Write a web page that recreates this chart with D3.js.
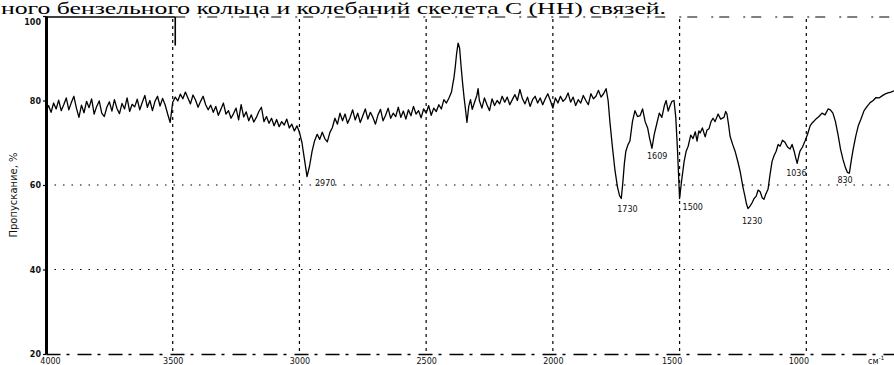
<!DOCTYPE html>
<html>
<head>
<meta charset="utf-8">
<script src="https://cdn.jsdelivr.net/npm/d3@7"></script>
<style>
  body { margin: 0; background: #fff; }
  svg { display: block; }
</style>
</head>
<body>
<svg id="chart" width="894" height="365"></svg>
<script>
// Caption line running across the top of the figure
const heading = "ного бензельного кольца и колебаний скелета С (НН) связей.";
const yTitle = "Пропускание, %";
const xUnit = "см";

// Axis ticks
const xTicks = [4000, 3500, 3000, 2500, 2000, 1500, 1000];
const yTicks = [100, 80, 60, 40, 20];
const gridT = [60, 40];

// IR spectrum: wavenumber (cm-1) and transmittance (%)
const wavenumber = [
  4000,3990,3980,3970,3960,3950,3940,3930,3920,3910,3900,3890,3880,3870,3860,3850,3840,3830,3820,3810,
  3800,3790,3780,3770,3760,3750,3740,3730,3720,3710,3700,3690,3680,3670,3660,3650,3640,3630,3620,3610,
  3600,3590,3580,3570,3560,3550,3540,3530,3520,3510,3500,3490,3480,3470,3460,3450,3440,3430,3420,3410,
  3400,3390,3380,3370,3360,3350,3340,3330,3320,3310,3300,3290,3280,3270,3260,3250,3240,3230,3220,3210,
  3200,3190,3180,3170,3160,3150,3140,3130,3120,3110,3100,3090,3080,3070,3060,3050,3040,3030,3020,3010,
  3000,2990,2980,2970,2960,2950,2940,2930,2920,2910,2900,2890,2880,2870,2860,2850,2840,2830,2820,2810,
  2800,2790,2780,2770,2760,2750,2740,2730,2720,2710,2700,2690,2680,2670,2660,2650,2640,2630,2620,2610,
  2600,2590,2580,2570,2560,2550,2540,2530,2520,2510,2500,2490,2480,2470,2460,2450,2440,2430,2420,2410,
  2400,2395,2390,2385,2380,2374,2368,2362,2356,2350,2345,2339,2332,2325,2318,2310,
  2300,2295,2290,2280,2270,2260,2250,2240,2230,2220,2210,2200,2190,2180,2170,2160,2150,2140,2130,2120,
  2110,2100,2090,2080,2070,2060,2050,2040,2030,2020,2010,2000,1990,1980,1970,1960,1950,1940,1930,1920,
  1910,1900,1890,1880,1870,1860,1850,1840,1830,1820,1810,1800,1790,1782,1775,1765,1755,1745,1737,1730,
  1724,1718,1712,1704,1696,1686,1676,1666,1656,1646,1636,1626,1618,1609,1600,1590,1580,1570,1560,1553,
  1545,1538,1530,1522,1515,1508,1500,1492,1482,1474,1466,1456,1447,1438,1431,1424,1419,1410,1399,1392,
  1384,1376,1368,1360,1348,1338,1325,1318,1313,1306,1301,1290,1281,1270,1261,1250,1242,1236,1230,1222,
  1214,1206,1198,1190,1182,1174,1167,1160,1151,1143,1135,1127,1119,1111,1103,1094,1084,1074,1064,1056,
  1048,1042,1036,1030,1025,1015,1005,995,985,975,962,950,938,926,914,905,895,885,875,865,
  855,845,838,830,822,815,805,795,785,772,760,748,736,725,713,701,690,678,666,654
];
const transmittance = [
  77.5,78.8,77.2,79.4,78.0,80.1,77.6,79.0,80.6,77.8,79.5,81.0,78.2,76.0,78.9,77.1,79.8,78.3,80.4,76.8,
  78.6,79.9,77.0,76.2,78.4,79.7,77.5,80.2,78.1,76.9,79.3,78.0,80.6,77.4,79.1,78.5,80.3,77.8,79.6,81.2,
  78.4,80.0,77.6,79.8,81.0,78.7,80.5,79.0,76.8,74.8,79.6,80.8,79.9,81.5,80.4,82.0,80.6,79.2,81.3,80.1,
  78.4,79.8,81.0,79.0,77.8,78.9,77.2,78.6,76.5,77.9,79.4,76.8,77.6,75.8,76.9,78.2,75.4,79.0,76.1,77.3,
  75.2,76.6,74.9,76.0,77.4,78.4,75.0,76.2,74.6,75.8,74.0,75.5,73.8,75.0,74.2,75.6,73.5,74.4,72.8,74.0,
  72.5,70.0,66.0,62.0,64.5,68.0,70.5,72.0,70.8,72.5,71.0,70.2,72.4,73.6,75.8,74.4,77.0,75.2,76.8,74.6,
  76.0,77.8,75.4,77.0,74.8,76.4,78.0,75.6,77.2,76.0,74.4,76.6,77.9,75.2,76.5,78.2,75.8,77.0,76.2,78.4,
  76.0,77.5,75.6,77.8,76.4,78.6,76.8,77.6,75.9,78.0,77.0,78.8,76.5,78.2,77.4,79.0,78.0,80.2,79.4,80.6,
  82.0,83.8,85.5,88.0,91.0,93.6,92.4,88.0,84.0,80.5,78.0,74.8,78.6,80.2,77.9,79.4,
  81.2,82.8,80.0,78.2,80.6,79.0,77.6,80.4,78.8,80.0,79.2,81.0,79.6,80.8,79.0,80.2,81.4,80.0,82.6,80.4,
  79.2,80.8,78.6,80.2,81.0,79.4,80.6,79.0,80.4,81.6,80.0,78.2,80.6,79.4,81.0,79.8,80.4,81.8,79.6,80.8,
  78.8,80.2,79.4,81.2,80.0,79.0,81.6,80.4,81.0,82.4,80.8,81.6,82.8,80.0,75.0,69.0,63.5,59.5,57.5,56.8,
  60.5,65.0,68.0,69.5,70.4,75.0,77.6,76.2,76.4,78.0,75.0,73.5,71.0,68.7,72.0,74.5,77.0,76.0,78.8,80.0,
  77.5,78.7,79.8,80.0,76.0,68.0,56.8,61.0,65.6,68.0,69.2,71.8,71.0,72.6,70.4,72.8,72.3,73.5,71.4,73.0,
  73.3,75.0,75.8,75.0,76.8,75.6,76.0,77.4,76.8,74.0,71.6,69.5,68.0,65.5,63.2,59.5,57.3,55.5,54.4,55.0,
  55.8,56.8,57.3,58.8,58.4,57.0,56.6,57.8,59.0,62.5,65.6,67.0,68.0,69.6,69.2,70.6,70.1,69.0,68.5,69.6,
  68.0,66.5,65.1,66.8,68.0,69.0,70.4,72.0,74.0,74.8,75.6,76.2,77.0,76.6,78.0,77.8,77.0,75.0,72.0,68.5,
  66.0,64.0,63.0,62.8,66.0,68.5,71.5,74.0,75.5,77.6,78.6,79.5,80.0,80.7,80.6,81.1,81.5,81.8,82.0,82.3
];

// Annotated absorption bands
const peakWavenumbers = [2970, 1730, 1609, 1500, 1230, 1036, 830];
const peakLabels = ["2970", "1730", "1609", "1500", "1230", "1036", "830"];

const svg = d3.select("#chart");

const x = d3.scaleLinear().domain([4000, 650]).range([46, 895]);
const y = d3.scaleLinear().domain([20, 100]).range([354, 16]);

// caption
svg.append("text")
  .attr("x", 1).attr("y", 14.3)
  .attr("textLength", 665)
  .attr("lengthAdjust", "spacingAndGlyphs")
  .style("font-family", "'Liberation Serif', 'Times New Roman', serif")
  .style("font-size", "16px")
  .attr("fill", "#000")
  .text(heading);

const grid = svg.append("g").attr("stroke", "#000").attr("fill", "none");

// vertical grid lines at each labelled wavenumber
grid.selectAll("line.v")
  .data(xTicks.filter(d => d !== 4000))
  .join("line")
  .attr("class", "v")
  .attr("x1", d => x(d)).attr("x2", d => x(d))
  .attr("y1", y(100) + 3).attr("y2", y(20))
  .attr("stroke-width", 1.2)
  .attr("stroke-dasharray", "3,4");

// horizontal grid lines
grid.selectAll("line.h")
  .data(gridT)
  .join("line")
  .attr("class", "h")
  .attr("x1", x(4000)).attr("x2", x(650))
  .attr("y1", d => y(d)).attr("y2", d => y(d))
  .attr("stroke-width", 1.2)
  .attr("stroke-dasharray", "1.5,7");

// top frame: solid near the origin, broken further on
grid.append("line")
  .attr("x1", x(4000)).attr("x2", x(3490))
  .attr("y1", y(100) + 1).attr("y2", y(100) + 1)
  .attr("stroke-width", 1.6);
grid.append("line")
  .attr("x1", x(3490)).attr("x2", x(650))
  .attr("y1", y(100) + 1).attr("y2", y(100) + 1)
  .attr("stroke-width", 1.2)
  .attr("stroke-dasharray", "10,14,2,6");
grid.append("line")
  .attr("x1", x(3490)).attr("x2", x(3490))
  .attr("y1", y(100) + 1).attr("y2", y(93))
  .attr("stroke-width", 1.6);

// left axis
const yAxis = svg.append("g")
  .attr("transform", `translate(${x(4000)},0)`)
  .call(d3.axisLeft(y).tickValues(yTicks).tickFormat(d3.format("d"))
    .tickSize(3).tickSizeOuter(0).tickPadding(2));
yAxis.select(".domain").attr("stroke-width", 3);
yAxis.selectAll(".tick line").attr("stroke-width", 1.2);
yAxis.selectAll(".tick text")
  .style("font-family", "'DejaVu Sans', sans-serif")
  .style("font-size", "8px")
  .style("font-weight", "bold")
  .attr("fill", "#111")
  .attr("dy", d => d === 100 ? "1.05em" : "0.32em");

// bottom axis
const xAxis = svg.append("g")
  .attr("transform", `translate(0,${y(20)})`)
  .call(d3.axisBottom(x).tickValues(xTicks).tickFormat(d3.format("d"))
    .tickSize(0).tickSizeOuter(0).tickPadding(4));
xAxis.select(".domain")
  .attr("stroke-width", 1.4)
  .attr("stroke-dasharray", "14,6,3,8");
xAxis.selectAll(".tick text")
  .style("font-family", "'DejaVu Sans', sans-serif")
  .style("font-size", "8px")
  .attr("fill", "#111")
  .attr("dx", d => d === 4000 ? 4 : (d <= 1500 ? -8 : 0));

// unit of the wavenumber axis
const unit = svg.append("text")
  .attr("x", 868).attr("y", 364)
  .style("font-family", "'DejaVu Sans', sans-serif")
  .style("font-size", "8px")
  .attr("fill", "#111");
unit.append("tspan").text(xUnit);
unit.append("tspan").attr("dy", -4).style("font-size", "6px").text("-1");

// y title
svg.append("text")
  .attr("transform", `translate(17,${y(60) + 10}) rotate(-90)`)
  .attr("text-anchor", "middle")
  .style("font-family", "'DejaVu Sans', sans-serif")
  .style("font-size", "10px")
  .attr("fill", "#111")
  .text(yTitle);

// spectrum trace
const points = wavenumber.map((w, i) => [w, transmittance[i]]);
svg.append("path")
  .datum(points)
  .attr("fill", "none")
  .attr("stroke", "#000")
  .attr("stroke-width", 1.3)
  .attr("stroke-linejoin", "round")
  .attr("d", d3.line().x(d => x(d[0])).y(d => y(d[1])));

// band labels beneath each minimum
const labelShift = { "2970": [8, 9], "1730": [-4, 13], "1609": [-5, 11], "1500": [3, 11],
                     "1230": [-6, 15], "1036": [-11, 13], "830": [-12, 10] };
svg.append("g").selectAll("text")
  .data(peakWavenumbers)
  .join("text")
  .attr("x", (d, i) => x(d) + labelShift[peakLabels[i]][0])
  .attr("y", (d, i) => y(transmittance[wavenumber.indexOf(d)]) + labelShift[peakLabels[i]][1])
  .style("font-family", "'DejaVu Sans', sans-serif")
  .style("font-size", "8px")
  .attr("fill", "#111")
  .text((d, i) => peakLabels[i]);
</script>
</body>
</html>
